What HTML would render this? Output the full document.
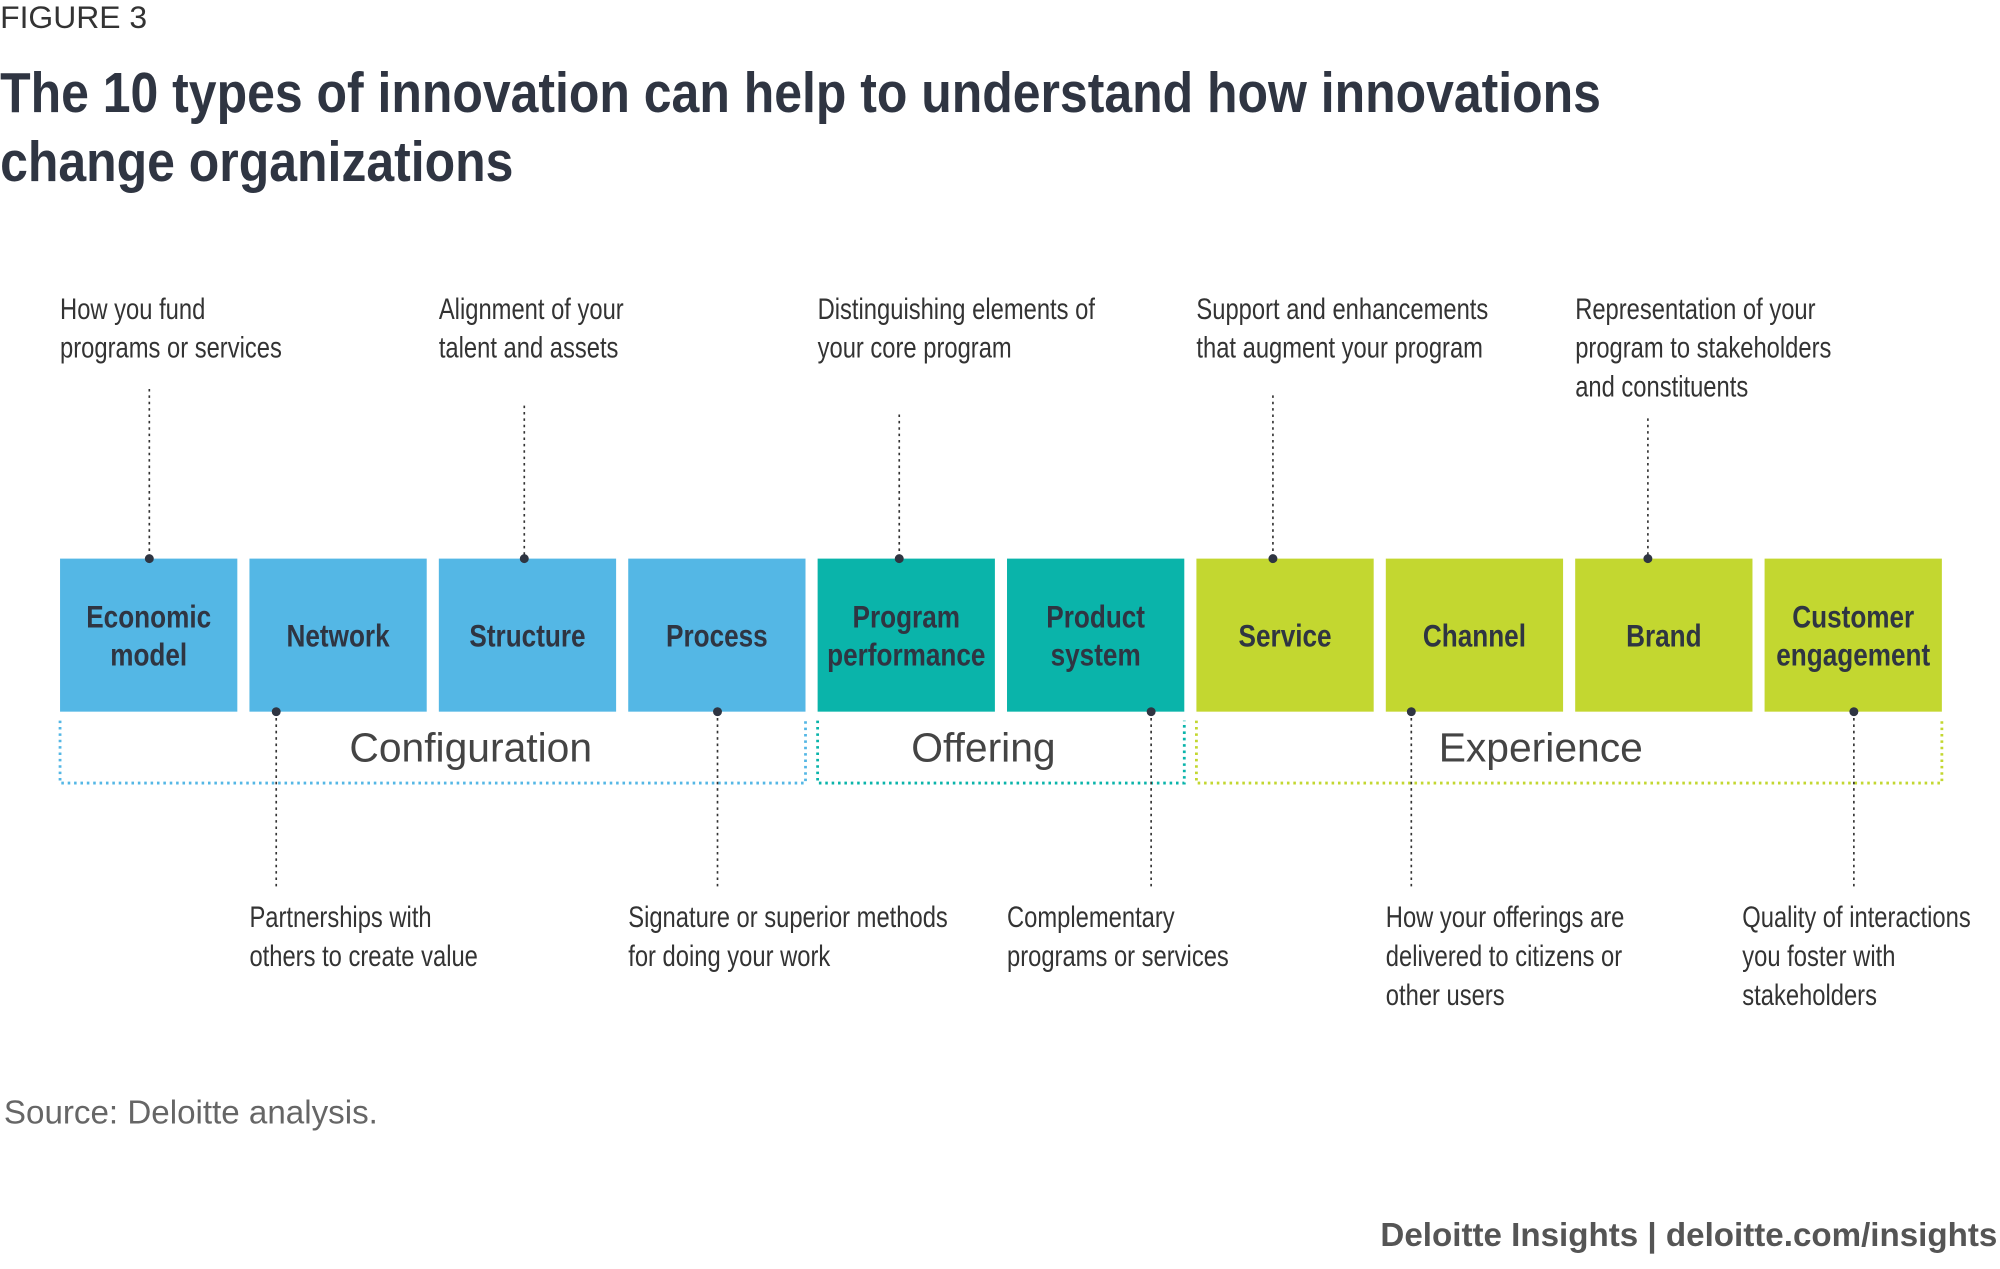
<!DOCTYPE html>
<html><head><meta charset="utf-8"><style>
html,body{margin:0;padding:0;background:#fff;}
svg{display:block;}
.n{font-family:"Liberation Sans",sans-serif;}
.s{font-family:"Liberation Sans","DejaVu Sans",sans-serif;}
</style></head><body>
<svg id="c" width="2000" height="1269" viewBox="0 0 1568 995" xmlns="http://www.w3.org/2000/svg">
<text class="s" x="0" y="22" font-size="25" fill="#333">FIGURE 3</text>
<g transform="scale(0.89,1)">
<text class="n" font-size="44" font-weight="bold" fill="#2f3542"><tspan x="0" y="88">The 10 types of innovation can help to understand how innovations</tspan><tspan x="0" y="142">change organizations</tspan></text>
</g>
<g id="brackets"></g>
<g id="boxes"></g>
<g id="notes"></g>
<text class="s" x="3" y="881" font-size="26" fill="#666">Source: Deloitte analysis.</text>
<text class="s" x="1566" y="977" font-size="26" font-weight="bold" fill="#555" text-anchor="end">Deloitte Insights | deloitte.com/insights</text>
</svg>
<script>
const types=[["Economic","model"],["Network"],["Structure"],["Process"],["Program","performance"],["Product","system"],["Service"],["Channel"],["Brand"],["Customer","engagement"]];
const typeGroup=[0,0,0,0,1,1,2,2,2,2];
const groups=["Configuration","Offering","Experience"];
const groupColors=["#54b7e5","#0ab4aa","#c3d730"];
const descriptions=[["How you fund","programs or services"],["Partnerships with","others to create value"],["Alignment of your","talent and assets"],["Signature or superior methods","for doing your work"],["Distinguishing elements of","your core program"],["Complementary","programs or services"],["Support and enhancements","that augment your program"],["How your offerings are","delivered to citizens or","other users"],["Representation of your","program to stakeholders","and constituents"],["Quality of interactions","you foster with","stakeholders"]];
const NS="http://www.w3.org/2000/svg";
const X0=47,P=148.5,W=139,Y0=438,H=120;
const bx=i=>X0+i*P;
const lineOff=[70,21,67,70,64,113,60,20,57,70];
function mk(t,a,p){const e=document.createElementNS(NS,t);for(const k in a)e.setAttribute(k,a[k]);p.appendChild(e);return e;}
const gb=document.getElementById('boxes'),gn=document.getElementById('notes'),gr=document.getElementById('brackets');
types.forEach((lines,i)=>{
 const r=mk('rect',{x:bx(i),y:Y0,width:W,height:H,fill:groupColors[typeGroup[i]]},gb);
 
 
 const cy=Y0+H/2+9-(lines.length-1)*15;
 const g=mk('g',{transform:`translate(${bx(i)+W/2},${cy}) scale(0.82,1)`},gb);
 const t=mk('text',{class:'n','font-size':25,'font-weight':'bold',fill:'#2f3542','text-anchor':'middle'},g);
 
 
 lines.forEach((l,j)=>{const s=mk('tspan',{x:0,y:j*30},t);s.textContent=l;});
 const top=i%2===0;
 const lx=bx(i)+lineOff[i];
 const dy=top?Y0:Y0+H;
 const ly=top?[305,318,325,310,328][i/2]:695;
 const ln=mk('line',{x1:lx,x2:lx,y1:ly,y2:dy,stroke:'#333','stroke-width':1.3,'stroke-dasharray':'2,3'},gn);
 
 
 mk('circle',{cx:lx,cy:dy,r:3.5,fill:'#2f3542'},gn);
 const tx=top?bx(i):(i===9?1366:bx(i));
 const ty=top?250:727;
 const dg=mk('g',{transform:`translate(${tx},${ty}) scale(0.81,1)`},gn);
 const d=mk('text',{class:'n','font-size':23,fill:'#333'},dg);
 
 
 descriptions[i].forEach((l,j)=>{const s=mk('tspan',{x:0,y:j*30.5},d);s.textContent=l;});
});
groups.forEach((g,k)=>{
 const idx=typeGroup.map((v,i)=>v===k?i:-1).filter(v=>v>=0);
 const x1=bx(idx[0]),x2=bx(idx[idx.length-1])+W-(k===0?0:0);
 const c=groupColors[k];
 const p=mk('path',{d:`M${x1} 565 V614 H${x2} V565`,fill:'none',stroke:c,'stroke-width':2.2,'stroke-dasharray':'2,3'},gr);
 
 
 const t=mk('text',{class:'s',x:[369,771,1208][k],y:597,'font-size':32,'font-weight':300,fill:'#444','text-anchor':'middle'},gr);
 t.textContent=g;
 
 
});
</script>
</body></html>
